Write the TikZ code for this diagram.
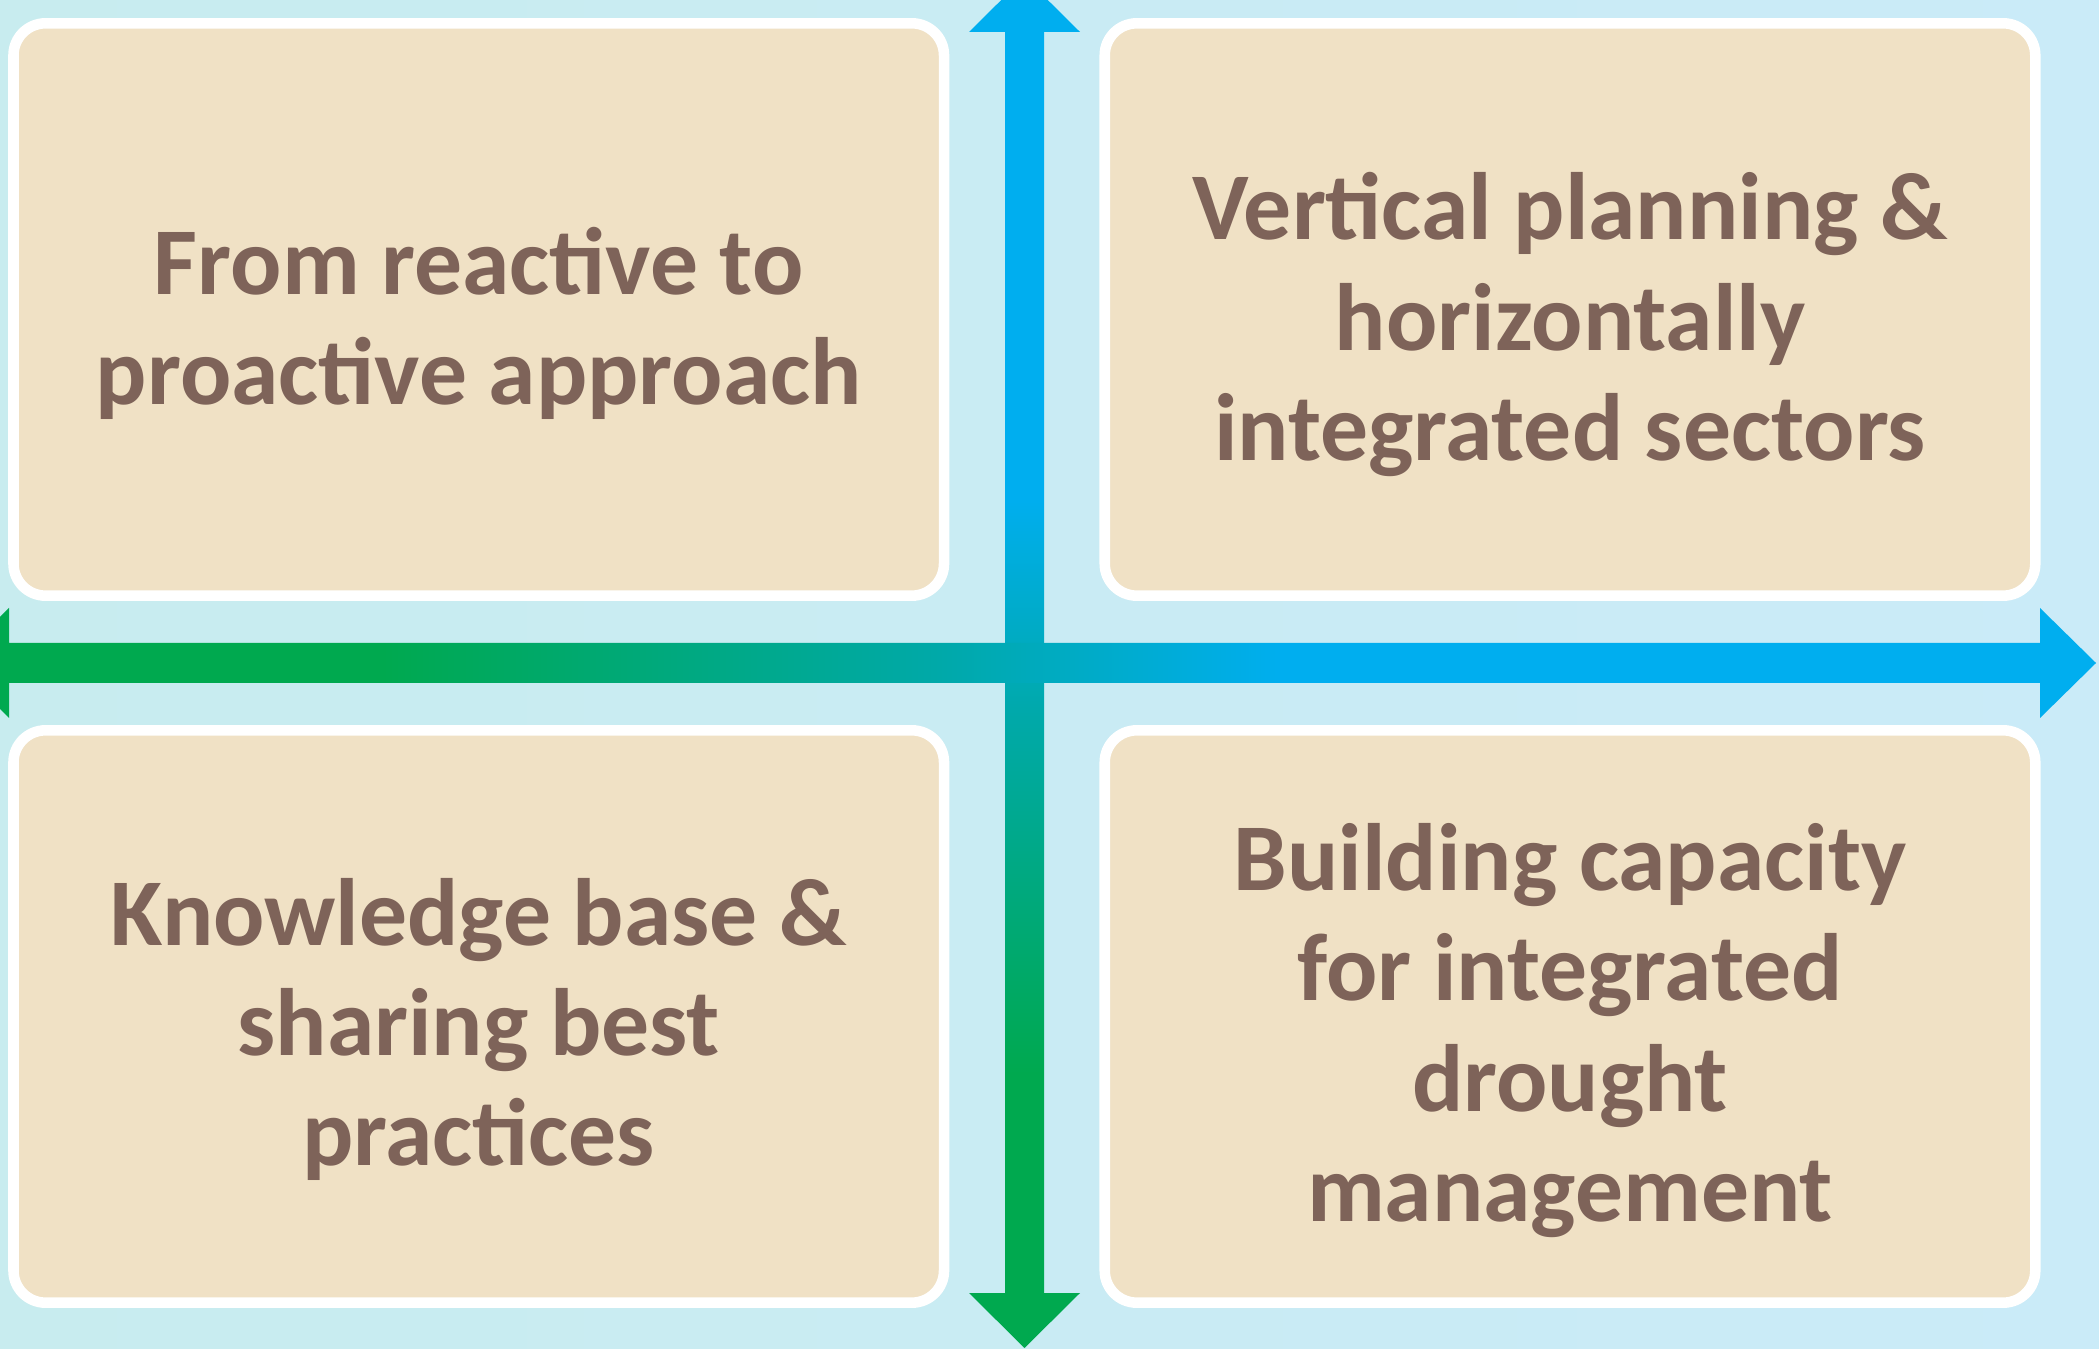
\documentclass[tikz,border=0pt]{standalone}
\usepackage{fontspec}
\setmainfont{Carlito}
\usepackage{tikz}
\definecolor{bgleft}{RGB}{200,236,239}
\definecolor{bgright}{RGB}{202,235,248}
\definecolor{cream}{RGB}{240,225,197}
\definecolor{brownish}{RGB}{126,99,89}
\definecolor{agreen}{RGB}{0,169,79}
\definecolor{ateal}{RGB}{0,169,169}
\definecolor{acyan}{RGB}{0,174,239}
\pgfdeclarehorizontalshading{axisshade}{100bp}{color(0bp)=(agreen); color(25bp)=(agreen); color(35bp)=(agreen); color(48bp)=(ateal); color(56bp)=(acyan); color(75bp)=(acyan); color(100bp)=(acyan)}

\begin{document}
\begin{tikzpicture}[x=0.01cm,y=-0.01cm,
	quad/.style={draw=white,line width=3pt,fill=cream,rounded corners=0.32cm,
		minimum width=9.3cm,minimum height=5.72cm},
	quadtext/.style={text=brownish,align=center,
		font=\fontsize{27.2pt}{31.3pt}\selectfont\bfseries}]
			\useasboundingbox(0,0)rectangle(2099,1349);
			\clip(0,0)rectangle(2099,1349);
			\shade[left color=bgleft,right color=bgright](0,0)rectangle(2099,1349);
			% vertical axis, then horizontal axis on top
			\shade[shading=axisshade,shading angle=90](1005,1293)--(1005,32)--(969,32)--(1024.5,-23)--(1080,32)--(1044,32)--(1044,1293)--(1080,1293)--(1024.5,1348)--(969,1293)--cycle;
			\shade[shading=axisshade](9,643)--(2040,643)--(2040,608)--(2096,663)--(2040,718)--(2040,683)--(9,683)--(9,718)--(-46,663)--(9,608)--cycle;
			% the four boxes
			\node[quad](tl)at(478.75,309.5){};
			\node[quad](tr)at(1570,309.5){};
			\node[quad](bl)at(478.75,1016.5){};
			\node[quad](br)at(1570,1016.5){};
			\node[quadtext](tltext)at([yshift=-0.14cm]tl.center){From reactive to\\proactive approach};
			\node[quadtext](trtext)at([yshift=-0.15cm]tr.center){Vertical planning \&\\horizontally\\integrated sectors};
			\node[quadtext](bltext)at([yshift=-0.13cm]bl.center){Knowledge base \&\\sharing best\\practices};
			\node[quadtext](brtext)at([yshift=-0.14cm]br.center){Building capacity\\for integrated\\drought\\management};
		\end{tikzpicture}
\end{document}
